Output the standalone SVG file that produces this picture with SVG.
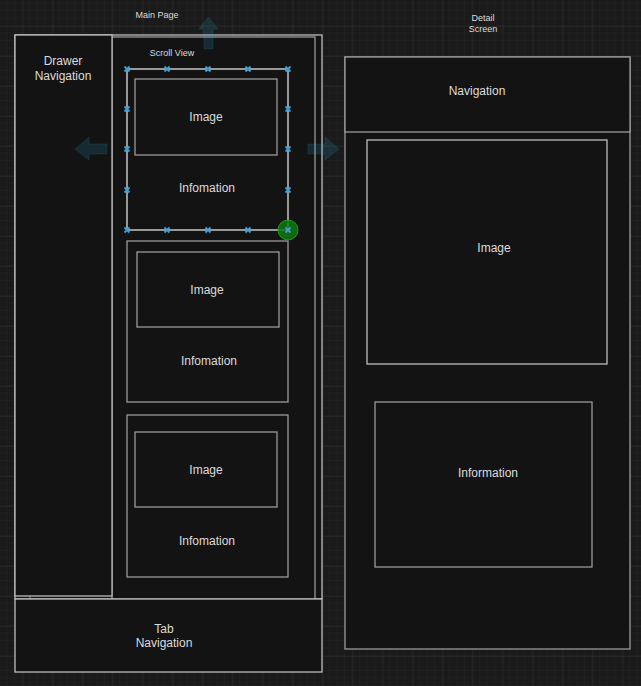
<svg xmlns="http://www.w3.org/2000/svg" width="641" height="686" viewBox="0 0 641 686">
<defs>
<pattern id="minor" x="0" y="3.5" width="7.5" height="7.5" patternUnits="userSpaceOnUse">
<path d="M7.5 0V7.5M0 7.5H7.5" fill="none" stroke="#232323" stroke-width="1"/>
</pattern>
<pattern id="major" x="22.5" y="26" width="30" height="30" patternUnits="userSpaceOnUse">
<path d="M0 0V30M0 0H30" fill="none" stroke="#303030" stroke-width="1"/>
</pattern>
<g id="xm"><path d="M-2.5 -2.5L2.5 2.5M-2.5 2.5L2.5 -2.5" stroke="#3aa0d8" stroke-width="1.8"/></g>
</defs>
<style>
.box{fill:#131313;stroke:#bdbdbd;stroke-width:1.3}
.gbox{fill:#131313;stroke:#9a9a9a;stroke-width:1.3}
.sel{fill:#131313;stroke:#e0e0e0;stroke-width:1.3}
.t{font-family:"Liberation Sans",Arial,sans-serif;font-size:12px;fill:#dcdcdc;text-anchor:middle}
.s{font-family:"Liberation Sans",Arial,sans-serif;font-size:9px;fill:#dcdcdc;text-anchor:middle}
.arr{fill:#29b6f2;fill-opacity:0.14;stroke:#29b6f2;stroke-opacity:0.12;stroke-width:1}
</style>
<rect width="641" height="686" fill="#1a1a1a"/>
<rect width="641" height="686" fill="url(#minor)"/>
<rect width="641" height="686" fill="url(#major)"/>

<text class="s" x="157" y="18">Main Page</text>
<text class="s" x="483" y="21">Detail</text>
<text class="s" x="483" y="32">Screen</text>

<g id="main-page">
<rect class="box" x="15" y="35" width="307" height="564"/>
</g>
<g id="scroll-view">
<rect class="gbox" x="112" y="37" width="203" height="562"/>
<text class="s" x="172" y="56">Scroll View</text>
</g>
<g id="drawer-navigation">
<rect class="box" x="15" y="35" width="97" height="561"/>
<text class="t" x="63" y="65">Drawer</text>
<text class="t" x="63" y="80">Navigation</text>
<line x1="30" y1="596" x2="30" y2="599" stroke="#9a9a9a" stroke-width="1"/>
</g>
<g id="tab-navigation">
<rect class="box" x="15" y="599" width="307" height="73"/>
<text class="t" x="164" y="633">Tab</text>
<text class="t" x="164" y="647">Navigation</text>
</g>

<g id="card-1">
<rect class="sel" x="127" y="69" width="161" height="161"/>
<rect class="gbox" x="135" y="79" width="142" height="76"/>
<text class="t" x="206" y="121">Image</text>
<text class="t" x="207" y="192">Infomation</text>
</g>
<g id="card-2">
<rect class="gbox" x="127" y="241" width="161" height="161"/>
<rect class="gbox" x="137" y="252" width="142" height="75"/>
<text class="t" x="207" y="294">Image</text>
<text class="t" x="209" y="365">Infomation</text>
</g>
<g id="card-3">
<rect class="gbox" x="127" y="415" width="161" height="162"/>
<rect class="gbox" x="135" y="432" width="142" height="75"/>
<text class="t" x="206" y="474">Image</text>
<text class="t" x="207" y="545">Infomation</text>
</g>

<g id="selection-handles">
<use href="#xm" x="127" y="69"/><use href="#xm" x="167" y="69"/><use href="#xm" x="208" y="69"/><use href="#xm" x="248" y="69"/><use href="#xm" x="288" y="69"/>
<use href="#xm" x="127" y="230"/><use href="#xm" x="167" y="230"/><use href="#xm" x="208" y="230"/><use href="#xm" x="248" y="230"/>
<use href="#xm" x="127" y="109"/><use href="#xm" x="127" y="149"/><use href="#xm" x="127" y="190"/>
<use href="#xm" x="288" y="109"/><use href="#xm" x="288" y="149"/><use href="#xm" x="288" y="190"/>
<circle cx="288" cy="230" r="10" fill="#0f7a0f" fill-opacity="0.85" stroke="#1a9a1a" stroke-width="1"/>
<use href="#xm" x="288" y="230"/>
</g>

<g id="hover-arrows">
<path class="arr" d="M208.5 17L218 29H213V49H204V29H199Z"/>
<path class="arr" d="M75 149L89 137V144H107V154H89V160Z"/>
<path class="arr" d="M339 149L325 137V144H308V154H325V160Z"/>
</g>

<g id="detail-screen">
<rect class="gbox" x="345" y="57" width="285" height="592"/>
</g>
<g id="detail-navigation">
<rect class="gbox" x="345" y="57" width="285" height="75"/>
<text class="t" x="477" y="95">Navigation</text>
</g>
<g id="detail-image">
<rect class="box" x="367" y="140" width="240" height="224"/>
<text class="t" x="494" y="252">Image</text>
</g>
<g id="detail-information">
<rect class="gbox" x="375" y="402" width="217" height="165"/>
<text class="t" x="488" y="477">Information</text>
</g>
</svg>
